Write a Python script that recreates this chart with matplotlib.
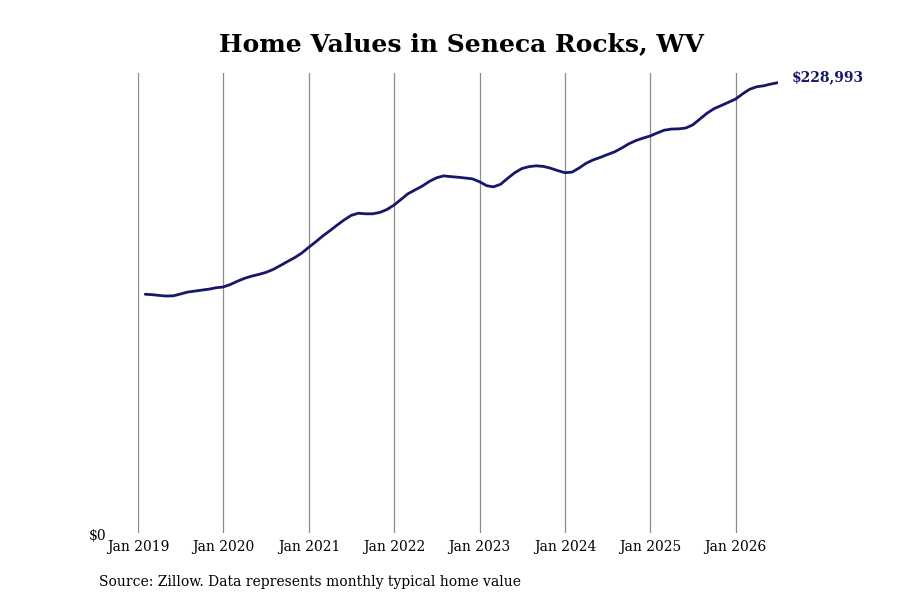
import matplotlib
matplotlib.use("Agg")
import matplotlib.pyplot as plt
import matplotlib.transforms as mtransforms
import pandas as pd

plt.rcParams['font.family'] = ['DejaVu Serif']

# Monthly typical home value, Feb 2019 .. Jul 2026
start_month = "2019-02-01"
values = [
    121400, 121200, 120800, 120500, 120600, 121500, 122500, 123000, 123500, 124000, 124700,
    125100, 126400, 128000, 129500, 130600, 131500, 132500, 134000, 136000, 138000, 140000, 142300,
    145300, 148200, 151000, 153700, 156500, 159200, 161500, 162600, 162300, 162300, 163000, 164500,
    166800, 169800, 172500, 174500, 176400, 178800, 180600, 181600, 181200, 180900, 180500, 180100,
    178600, 176600, 176000, 177300, 180300, 183200, 185300, 186300, 186700, 186400, 185500, 184300,
    183200, 183500, 185500, 188000, 189700, 191000, 192400, 193800, 195800, 197900, 199600, 200800,
    201900, 203500, 204800, 205400, 205500, 205900, 207500, 210500, 213500, 215800, 217400, 219000,
    220700, 223400, 225600, 226900, 227400, 228300, 228993,
]
dates = pd.date_range(start_month, periods=len(values), freq="MS")
tick_years = [2019, 2020, 2021, 2022, 2023, 2024, 2025, 2026]
tick_labels = [f"Jan {y}" for y in tick_years]
end_label = "$228,993"
title = "Home Values in Seneca Rocks, WV"
source = "Source: Zillow. Data represents monthly typical home value"

line_color = "#17176a"

fig = plt.figure(figsize=(9, 6), dpi=100)
ax = fig.add_axes([138/900, 1-533/600, (778-138)/900, (533-73)/600])

ax.plot(dates, values, color=line_color, linewidth=2.0, solid_capstyle="round")

ticks = [pd.Timestamp(f"{y}-01-01") for y in tick_years]
ax.set_xticks(ticks)
ax.set_xticklabels(tick_labels, fontsize=10)
ax.set_xlim(pd.Timestamp("2019-01-01"), dates[-1])
ax.set_ylim(0, 233900)
ax.set_yticks([0])
ax.set_yticklabels(["$0"], fontsize=10)
ax.tick_params(axis="both", length=0)
ax.tick_params(axis="x", pad=5)
ax.tick_params(axis="y", pad=23)
shift = mtransforms.ScaledTranslation(0, -3/100, fig.dpi_scale_trans)
for lbl in ax.get_yticklabels():
    lbl.set_verticalalignment("center")
    lbl.set_transform(lbl.get_transform() + shift)
ax.grid(axis="x", color="#8c8c8c", linewidth=0.9)
ax.grid(axis="y", visible=False)
for s in ax.spines.values():
    s.set_visible(False)

ax.annotate(end_label, xy=(dates[-1], values[-1]), xytext=(10, 4),
            textcoords="offset points", color=line_color, fontsize=10,
            fontweight="bold", va="center", ha="left", annotation_clip=False)

fig.text(461/900, 1-44/600, title, ha="center", va="center", fontsize=18, fontweight="bold")
fig.text(99/900, 1-582/600, source, ha="left", va="center", fontsize=10)

fig.savefig("out.png", dpi=100)
